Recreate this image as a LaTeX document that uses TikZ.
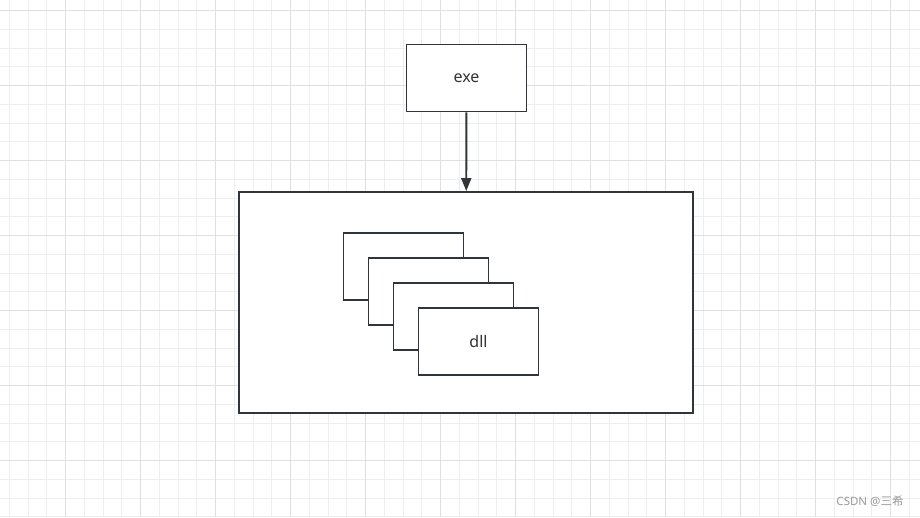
\documentclass[tikz,border=0pt]{standalone}
\usepackage{fontspec}
\setmainfont{Noto Sans}
\newfontfamily\cjk{Noto Sans CJK SC}
\usetikzlibrary{arrows.meta}
\definecolor{minorgrid}{HTML}{EEEEEE}
\definecolor{majorgrid}{HTML}{E0E0E0}
\definecolor{ink}{HTML}{30353A}
\definecolor{txt}{HTML}{333333}
\tikzset{
  box/.style={draw=ink, line width=1.9pt, fill=white, rectangle, inner sep=0pt,
    minimum width=120pt, minimum height=67pt, text=txt, font=\fontsize{16pt}{18pt}\selectfont},
  bigbox/.style={draw=ink, line width=1.9pt, fill=white, rectangle, inner sep=0pt,
    minimum width=454pt, minimum height=221pt},
  conn/.style={draw=ink, line width=1.9pt, -{Triangle[length=13pt,width=10pt]}},
}
\begin{document}
\begin{tikzpicture}[x=1pt,y=-1pt]
\fill[white] (0,0) rectangle (920,517);
\useasboundingbox (0,0) rectangle (920,517);
% minor grid
\foreach \i in {0,...,48} {
  \draw[minorgrid, line width=1pt] ({9.3+18.75*\i},0) -- ({9.3+18.75*\i},517);
}
\foreach \j in {0,...,27} {
  \draw[minorgrid, line width=1pt] (0,{10.7+18.75*\j}) -- (920,{10.7+18.75*\j});
}
% major grid
\foreach \i in {0,...,11} {
  \draw[majorgrid, line width=1pt] ({65.7+75*\i},0) -- ({65.7+75*\i},517);
}
\foreach \j in {0,...,6} {
  \draw[majorgrid, line width=1pt] (0,{10.7+75*\j}) -- (920,{10.7+75*\j});
}
\node[box] (exe) at (466.5,78) {exe};
\node[bigbox] (host) at (466,302.5) {};
\node[box] (d1) at (403.5,266.5) {};
\node[box] (d2) at (428.5,291.5) {};
\node[box] (d3) at (453.5,316.5) {};
\node[box] (d4) at (478.5,341.5) {dll};
\draw[conn] (exe) -- (host);
\node[text=gray!80, font=\fontsize{11.5pt}{13pt}\selectfont, inner sep=0pt] (wm) at (870,501) {CSDN @{\cjk 三希}};
\end{tikzpicture}
\end{document}
